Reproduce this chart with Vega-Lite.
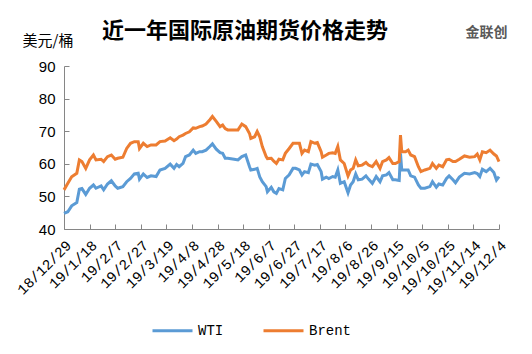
{
"$schema": "https://vega.github.io/schema/vega-lite/v6.json",
"width": 435,
"height": 163,
"autosize": "none",
"padding": {"left": 64, "top": 66, "right": 33, "bottom": 125},
"background": "white",
"config": {"view": {"stroke": null}, "axis": {"grid": false}},
"title": {"text": "近一年国际原油期货价格走势", "font": "Noto Sans CJK SC", "fontSize": 22, "fontWeight": "bold", "color": "#000000", "anchor": "start", "frame": "group", "dx": 38, "baseline": "bottom", "offset": -40},
"datasets": {"oil": [
{"date":"2018-12-29","series":"WTI","price":44.8},{"date":"2019-01-01","series":"WTI","price":45.3},{"date":"2019-01-04","series":"WTI","price":47.1},{"date":"2019-01-08","series":"WTI","price":48.1},{"date":"2019-01-10","series":"WTI","price":52.2},{"date":"2019-01-12","series":"WTI","price":52.4},{"date":"2019-01-15","series":"WTI","price":50.6},{"date":"2019-01-18","series":"WTI","price":52.5},{"date":"2019-01-21","series":"WTI","price":53.5},{"date":"2019-01-23","series":"WTI","price":52.5},{"date":"2019-01-27","series":"WTI","price":53.2},{"date":"2019-01-29","series":"WTI","price":52.0},{"date":"2019-02-01","series":"WTI","price":53.8},{"date":"2019-02-04","series":"WTI","price":54.8},{"date":"2019-02-07","series":"WTI","price":53.2},{"date":"2019-02-09","series":"WTI","price":52.5},{"date":"2019-02-13","series":"WTI","price":53.0},{"date":"2019-02-16","series":"WTI","price":54.5},{"date":"2019-02-19","series":"WTI","price":55.5},{"date":"2019-02-22","series":"WTI","price":56.9},{"date":"2019-02-25","series":"WTI","price":57.1},{"date":"2019-02-26","series":"WTI","price":55.3},{"date":"2019-03-01","series":"WTI","price":56.9},{"date":"2019-03-04","series":"WTI","price":55.8},{"date":"2019-03-07","series":"WTI","price":56.3},{"date":"2019-03-11","series":"WTI","price":56.1},{"date":"2019-03-14","series":"WTI","price":58.1},{"date":"2019-03-18","series":"WTI","price":58.6},{"date":"2019-03-22","series":"WTI","price":59.9},{"date":"2019-03-25","series":"WTI","price":58.6},{"date":"2019-03-27","series":"WTI","price":59.8},{"date":"2019-03-29","series":"WTI","price":59.1},{"date":"2019-04-01","series":"WTI","price":60.1},{"date":"2019-04-03","series":"WTI","price":62.2},{"date":"2019-04-06","series":"WTI","price":62.7},{"date":"2019-04-09","series":"WTI","price":64.2},{"date":"2019-04-11","series":"WTI","price":63.2},{"date":"2019-04-14","series":"WTI","price":63.7},{"date":"2019-04-16","series":"WTI","price":63.7},{"date":"2019-04-19","series":"WTI","price":64.2},{"date":"2019-04-22","series":"WTI","price":65.3},{"date":"2019-04-24","series":"WTI","price":66.1},{"date":"2019-04-27","series":"WTI","price":64.5},{"date":"2019-04-30","series":"WTI","price":63.4},{"date":"2019-05-02","series":"WTI","price":63.2},{"date":"2019-05-04","series":"WTI","price":61.7},{"date":"2019-05-06","series":"WTI","price":61.7},{"date":"2019-05-11","series":"WTI","price":61.4},{"date":"2019-05-14","series":"WTI","price":61.2},{"date":"2019-05-17","series":"WTI","price":62.2},{"date":"2019-05-20","series":"WTI","price":62.7},{"date":"2019-05-23","series":"WTI","price":59.1},{"date":"2019-05-24","series":"WTI","price":58.1},{"date":"2019-05-27","series":"WTI","price":58.3},{"date":"2019-05-29","series":"WTI","price":58.6},{"date":"2019-05-31","series":"WTI","price":56.0},{"date":"2019-06-02","series":"WTI","price":54.5},{"date":"2019-06-05","series":"WTI","price":53.0},{"date":"2019-06-06","series":"WTI","price":51.4},{"date":"2019-06-09","series":"WTI","price":52.8},{"date":"2019-06-11","series":"WTI","price":51.4},{"date":"2019-06-13","series":"WTI","price":50.9},{"date":"2019-06-15","series":"WTI","price":52.4},{"date":"2019-06-18","series":"WTI","price":52.0},{"date":"2019-06-20","series":"WTI","price":55.5},{"date":"2019-06-23","series":"WTI","price":56.6},{"date":"2019-06-26","series":"WTI","price":58.6},{"date":"2019-06-28","series":"WTI","price":58.6},{"date":"2019-07-01","series":"WTI","price":58.1},{"date":"2019-07-03","series":"WTI","price":56.6},{"date":"2019-07-05","series":"WTI","price":57.6},{"date":"2019-07-08","series":"WTI","price":57.3},{"date":"2019-07-10","series":"WTI","price":59.9},{"date":"2019-07-13","series":"WTI","price":59.6},{"date":"2019-07-15","series":"WTI","price":59.8},{"date":"2019-07-18","series":"WTI","price":57.6},{"date":"2019-07-19","series":"WTI","price":55.3},{"date":"2019-07-22","series":"WTI","price":55.9},{"date":"2019-07-24","series":"WTI","price":55.5},{"date":"2019-07-27","series":"WTI","price":56.1},{"date":"2019-07-29","series":"WTI","price":55.9},{"date":"2019-07-31","series":"WTI","price":58.1},{"date":"2019-08-02","series":"WTI","price":54.0},{"date":"2019-08-05","series":"WTI","price":54.5},{"date":"2019-08-08","series":"WTI","price":51.1},{"date":"2019-08-10","series":"WTI","price":53.5},{"date":"2019-08-12","series":"WTI","price":54.5},{"date":"2019-08-14","series":"WTI","price":56.9},{"date":"2019-08-16","series":"WTI","price":55.1},{"date":"2019-08-19","series":"WTI","price":55.3},{"date":"2019-08-22","series":"WTI","price":56.3},{"date":"2019-08-24","series":"WTI","price":55.3},{"date":"2019-08-27","series":"WTI","price":54.0},{"date":"2019-08-30","series":"WTI","price":56.1},{"date":"2019-09-02","series":"WTI","price":54.5},{"date":"2019-09-04","series":"WTI","price":56.3},{"date":"2019-09-07","series":"WTI","price":56.6},{"date":"2019-09-09","series":"WTI","price":57.3},{"date":"2019-09-12","series":"WTI","price":55.1},{"date":"2019-09-14","series":"WTI","price":55.1},{"date":"2019-09-17","series":"WTI","price":54.9},{"date":"2019-09-18","series":"WTI","price":63.2},{"date":"2019-09-19","series":"WTI","price":58.1},{"date":"2019-09-22","series":"WTI","price":58.1},{"date":"2019-09-24","series":"WTI","price":58.1},{"date":"2019-09-26","series":"WTI","price":56.3},{"date":"2019-09-29","series":"WTI","price":55.9},{"date":"2019-10-02","series":"WTI","price":53.5},{"date":"2019-10-04","series":"WTI","price":52.5},{"date":"2019-10-07","series":"WTI","price":52.5},{"date":"2019-10-11","series":"WTI","price":53.0},{"date":"2019-10-13","series":"WTI","price":54.5},{"date":"2019-10-16","series":"WTI","price":52.8},{"date":"2019-10-18","series":"WTI","price":53.8},{"date":"2019-10-21","series":"WTI","price":53.5},{"date":"2019-10-24","series":"WTI","price":55.5},{"date":"2019-10-26","series":"WTI","price":56.3},{"date":"2019-10-29","series":"WTI","price":55.1},{"date":"2019-10-31","series":"WTI","price":54.2},{"date":"2019-11-03","series":"WTI","price":55.9},{"date":"2019-11-07","series":"WTI","price":57.1},{"date":"2019-11-11","series":"WTI","price":56.9},{"date":"2019-11-15","series":"WTI","price":57.3},{"date":"2019-11-17","series":"WTI","price":57.0},{"date":"2019-11-19","series":"WTI","price":56.1},{"date":"2019-11-21","series":"WTI","price":58.3},{"date":"2019-11-24","series":"WTI","price":57.6},{"date":"2019-11-27","series":"WTI","price":58.6},{"date":"2019-11-30","series":"WTI","price":57.3},{"date":"2019-12-02","series":"WTI","price":55.0},{"date":"2019-12-04","series":"WTI","price":56.1},
{"date":"2018-12-29","series":"Brent","price":52.0},{"date":"2019-01-01","series":"Brent","price":54.0},{"date":"2019-01-04","series":"Brent","price":56.0},{"date":"2019-01-08","series":"Brent","price":57.1},{"date":"2019-01-10","series":"Brent","price":61.2},{"date":"2019-01-12","series":"Brent","price":60.7},{"date":"2019-01-15","series":"Brent","price":58.6},{"date":"2019-01-18","series":"Brent","price":61.2},{"date":"2019-01-21","series":"Brent","price":62.7},{"date":"2019-01-23","series":"Brent","price":61.2},{"date":"2019-01-27","series":"Brent","price":61.4},{"date":"2019-01-29","series":"Brent","price":60.7},{"date":"2019-02-01","series":"Brent","price":62.2},{"date":"2019-02-04","series":"Brent","price":62.7},{"date":"2019-02-07","series":"Brent","price":61.4},{"date":"2019-02-09","series":"Brent","price":61.7},{"date":"2019-02-13","series":"Brent","price":62.0},{"date":"2019-02-16","series":"Brent","price":64.7},{"date":"2019-02-19","series":"Brent","price":66.3},{"date":"2019-02-22","series":"Brent","price":66.8},{"date":"2019-02-25","series":"Brent","price":66.8},{"date":"2019-02-26","series":"Brent","price":64.7},{"date":"2019-03-01","series":"Brent","price":66.3},{"date":"2019-03-04","series":"Brent","price":65.3},{"date":"2019-03-07","series":"Brent","price":65.8},{"date":"2019-03-11","series":"Brent","price":65.8},{"date":"2019-03-14","series":"Brent","price":66.8},{"date":"2019-03-18","series":"Brent","price":67.0},{"date":"2019-03-22","series":"Brent","price":68.0},{"date":"2019-03-25","series":"Brent","price":67.1},{"date":"2019-03-27","series":"Brent","price":67.6},{"date":"2019-03-29","series":"Brent","price":68.3},{"date":"2019-04-01","series":"Brent","price":68.8},{"date":"2019-04-03","series":"Brent","price":69.3},{"date":"2019-04-06","series":"Brent","price":69.8},{"date":"2019-04-09","series":"Brent","price":71.0},{"date":"2019-04-11","series":"Brent","price":70.9},{"date":"2019-04-14","series":"Brent","price":71.4},{"date":"2019-04-16","series":"Brent","price":71.6},{"date":"2019-04-19","series":"Brent","price":72.2},{"date":"2019-04-22","series":"Brent","price":73.5},{"date":"2019-04-24","series":"Brent","price":74.5},{"date":"2019-04-27","series":"Brent","price":73.0},{"date":"2019-04-30","series":"Brent","price":71.4},{"date":"2019-05-02","series":"Brent","price":71.9},{"date":"2019-05-04","series":"Brent","price":70.8},{"date":"2019-05-06","series":"Brent","price":70.4},{"date":"2019-05-11","series":"Brent","price":70.4},{"date":"2019-05-14","series":"Brent","price":70.4},{"date":"2019-05-17","series":"Brent","price":72.2},{"date":"2019-05-20","series":"Brent","price":71.4},{"date":"2019-05-23","series":"Brent","price":69.3},{"date":"2019-05-24","series":"Brent","price":67.8},{"date":"2019-05-27","series":"Brent","price":68.3},{"date":"2019-05-29","series":"Brent","price":69.9},{"date":"2019-05-31","series":"Brent","price":68.3},{"date":"2019-06-02","series":"Brent","price":65.3},{"date":"2019-06-05","series":"Brent","price":62.2},{"date":"2019-06-06","series":"Brent","price":61.6},{"date":"2019-06-09","series":"Brent","price":61.7},{"date":"2019-06-11","series":"Brent","price":60.8},{"date":"2019-06-13","series":"Brent","price":60.1},{"date":"2019-06-15","series":"Brent","price":61.4},{"date":"2019-06-18","series":"Brent","price":61.2},{"date":"2019-06-20","series":"Brent","price":63.2},{"date":"2019-06-23","series":"Brent","price":64.7},{"date":"2019-06-26","series":"Brent","price":66.3},{"date":"2019-06-28","series":"Brent","price":66.3},{"date":"2019-07-01","series":"Brent","price":66.3},{"date":"2019-07-03","series":"Brent","price":63.2},{"date":"2019-07-05","series":"Brent","price":64.2},{"date":"2019-07-08","series":"Brent","price":63.7},{"date":"2019-07-10","series":"Brent","price":66.8},{"date":"2019-07-13","series":"Brent","price":66.3},{"date":"2019-07-15","series":"Brent","price":66.5},{"date":"2019-07-18","series":"Brent","price":63.7},{"date":"2019-07-19","series":"Brent","price":62.0},{"date":"2019-07-22","series":"Brent","price":62.7},{"date":"2019-07-24","series":"Brent","price":63.2},{"date":"2019-07-27","series":"Brent","price":63.4},{"date":"2019-07-29","series":"Brent","price":63.2},{"date":"2019-07-31","series":"Brent","price":65.3},{"date":"2019-08-02","series":"Brent","price":61.2},{"date":"2019-08-05","series":"Brent","price":60.1},{"date":"2019-08-08","series":"Brent","price":56.3},{"date":"2019-08-10","series":"Brent","price":58.1},{"date":"2019-08-12","series":"Brent","price":58.6},{"date":"2019-08-14","series":"Brent","price":61.2},{"date":"2019-08-16","series":"Brent","price":59.4},{"date":"2019-08-19","series":"Brent","price":59.6},{"date":"2019-08-22","series":"Brent","price":60.4},{"date":"2019-08-24","series":"Brent","price":59.6},{"date":"2019-08-27","series":"Brent","price":59.1},{"date":"2019-08-30","series":"Brent","price":60.7},{"date":"2019-09-02","series":"Brent","price":58.6},{"date":"2019-09-04","series":"Brent","price":60.7},{"date":"2019-09-07","series":"Brent","price":61.2},{"date":"2019-09-09","series":"Brent","price":61.9},{"date":"2019-09-12","series":"Brent","price":60.1},{"date":"2019-09-14","series":"Brent","price":60.1},{"date":"2019-09-17","series":"Brent","price":60.7},{"date":"2019-09-18","series":"Brent","price":68.8},{"date":"2019-09-19","series":"Brent","price":63.7},{"date":"2019-09-22","series":"Brent","price":63.7},{"date":"2019-09-24","series":"Brent","price":64.2},{"date":"2019-09-26","series":"Brent","price":62.7},{"date":"2019-09-29","series":"Brent","price":62.2},{"date":"2019-10-02","series":"Brent","price":59.1},{"date":"2019-10-04","series":"Brent","price":57.6},{"date":"2019-10-07","series":"Brent","price":58.1},{"date":"2019-10-11","series":"Brent","price":58.6},{"date":"2019-10-13","series":"Brent","price":60.1},{"date":"2019-10-16","series":"Brent","price":58.6},{"date":"2019-10-18","series":"Brent","price":59.6},{"date":"2019-10-21","series":"Brent","price":59.1},{"date":"2019-10-24","series":"Brent","price":61.2},{"date":"2019-10-26","series":"Brent","price":61.4},{"date":"2019-10-29","series":"Brent","price":60.7},{"date":"2019-10-31","series":"Brent","price":60.7},{"date":"2019-11-03","series":"Brent","price":61.4},{"date":"2019-11-07","series":"Brent","price":62.4},{"date":"2019-11-11","series":"Brent","price":62.0},{"date":"2019-11-15","series":"Brent","price":62.2},{"date":"2019-11-17","series":"Brent","price":63.0},{"date":"2019-11-19","series":"Brent","price":61.2},{"date":"2019-11-21","series":"Brent","price":63.7},{"date":"2019-11-24","series":"Brent","price":63.4},{"date":"2019-11-27","series":"Brent","price":64.2},{"date":"2019-11-30","series":"Brent","price":63.0},{"date":"2019-12-02","series":"Brent","price":62.4},{"date":"2019-12-04","series":"Brent","price":60.7}
]},
"data": {"name": "oil", "format": {"parse": {"date": "date:'%Y-%m-%d'"}}},
"encoding": {
 "y": {"field": "price", "type": "quantitative",
       "scale": {"domain": [40, 90], "nice": false, "zero": false},
       "axis": {"values": [40, 50, 60, 70, 80, 90], "tickCount": 6, "title": "美元/桶", "titleAngle": 0, "titleAlign": "left", "titleBaseline": "middle", "titleX": -42, "titleY": -26,
                "titleFont": "Noto Sans CJK SC", "titleFontSize": 15, "titleFontWeight": "normal", "titleColor": "#000000",
                "labelFont": "Liberation Sans", "labelFontSize": 15, "labelColor": "#000000", "labelPadding": 14,
                "labelOverlap": false, "labelFlush": false, "labelBound": false,
                "domainColor": "#868686", "domainWidth": 1, "tickColor": "#868686", "tickSize": -5, "tickWidth": 1}}
},
"layer": [
 {
  "mark": {"type": "line", "strokeWidth": 3},
  "encoding": {
   "x": {"field": "date", "type": "temporal",
         "scale": {"domain": [{"year": 2018, "month": 12, "date": 29}, {"year": 2019, "month": 12, "date": 4}], "nice": false},
         "axis": {"title": null, "format": "%y/%-m/%-d",
                  "values": [{"year":2018,"month":12,"date":29},{"year":2019,"month":1,"date":18},{"year":2019,"month":2,"date":7},{"year":2019,"month":2,"date":27},{"year":2019,"month":3,"date":19},{"year":2019,"month":4,"date":8},{"year":2019,"month":4,"date":28},{"year":2019,"month":5,"date":18},{"year":2019,"month":6,"date":7},{"year":2019,"month":6,"date":27},{"year":2019,"month":7,"date":17},{"year":2019,"month":8,"date":6},{"year":2019,"month":8,"date":26},{"year":2019,"month":9,"date":15},{"year":2019,"month":10,"date":5},{"year":2019,"month":10,"date":25},{"year":2019,"month":11,"date":14},{"year":2019,"month":12,"date":4}],
                  "labelAngle": -45, "labelAlign": "right", "labelBaseline": "top", "labelPadding": 14,
                  "labelFont": "Liberation Mono", "labelFontSize": 14.5, "labelColor": "#000000",
                  "labelOverlap": false, "labelFlush": false, "labelBound": false,
                  "domainColor": "#868686", "domainWidth": 1, "tickColor": "#868686", "tickSize": -5, "tickWidth": 1}},
   "color": {"field": "series", "type": "nominal",
             "scale": {"domain": ["WTI", "Brent"], "range": ["#5B9BD5", "#ED7D31"]},
             "legend": {"title": null, "orient": "none", "legendX": 87, "legendY": 243, "direction": "horizontal",
                        "symbolType": "stroke", "symbolSize": 1600, "symbolStrokeWidth": 3,
                        "labelFont": "Liberation Mono", "labelFontSize": 14, "labelColor": "#000000", "labelOffset": 4, "columnPadding": 33}}
  }
 },
 {
  "mark": {"type": "line", "strokeOpacity": 0},
  "encoding": {
   "x": {"field": "date", "type": "temporal",
         "axis": {"orient": "top", "domain": false, "ticks": false, "labels": false, "title": "金联创", "titleX": 422, "titleY": -34, "titleAlign": "center", "titleBaseline": "middle",
                  "titleFont": "Noto Sans CJK SC", "titleFontSize": 14, "titleFontWeight": "bold", "titleColor": "#595959"}},
   "detail": {"field": "series", "type": "nominal"}
  }
 }
],
"resolve": {"axis": {"x": "independent"}}
}
